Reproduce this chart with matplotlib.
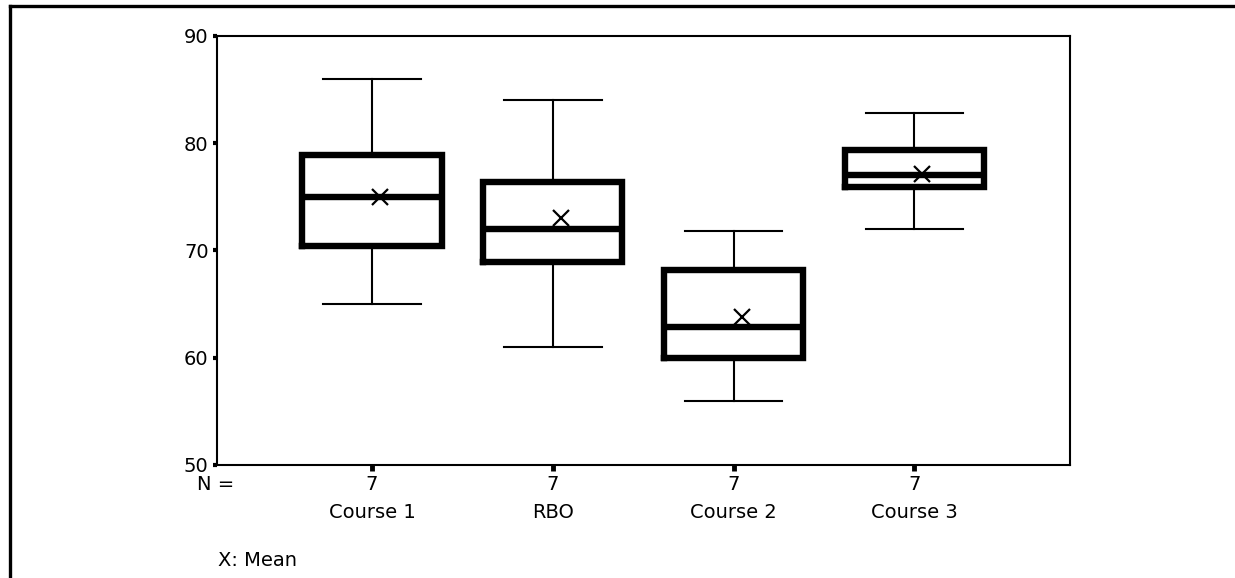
import matplotlib
matplotlib.use("Agg")
import matplotlib.pyplot as plt
import matplotlib.transforms as mtransforms
from matplotlib.lines import Line2D

# group summaries (whisker ends, quartiles, medians, means, counts)
groups = ["Course 1", "RBO", "Course 2", "Course 3"]
n_obs = [7, 7, 7, 7]
whisker_lo = [65, 61, 56, 72]
q1 = [70.4, 68.9, 60.0, 75.9]
medians = [75, 72, 62.9, 77]
q3 = [78.9, 76.4, 68.2, 79.4]
whisker_hi = [86, 84, 71.8, 82.8]
means = [75, 73, 63.8, 77.1]

plt.rcParams['font.family'] = ['DejaVu Sans']

fig = plt.figure(figsize=(12.35, 5.78), dpi=100)
ax = fig.add_axes([217 / 1235, 1 - 465 / 578, (1070 - 217) / 1235, (465 - 36) / 578])

stats = []
for i in range(len(groups)):
    stats.append({
        'whislo': whisker_lo[i], 'q1': q1[i], 'med': medians[i],
        'q3': q3[i], 'whishi': whisker_hi[i], 'fliers': [], 'label': groups[i],
    })

positions = list(range(1, len(groups) + 1))
ax.bxp(stats, positions=positions, widths=0.77, capwidths=0.54,
       showfliers=False,
       boxprops=dict(color='black', linewidth=4.6, solid_joinstyle='miter'),
       medianprops=dict(color='black', linewidth=4.6, solid_capstyle='butt'),
       whiskerprops=dict(color='black', linewidth=1.5),
       capprops=dict(color='black', linewidth=1.5))

# mean markers, nudged a little right of the box centre
mean_tr = mtransforms.offset_copy(ax.transData, fig=fig, x=8, y=0, units='dots')
ax.plot(positions, means, linestyle='none', marker='x', markersize=12,
        markeredgewidth=1.6, color='black', transform=mean_tr)

ax.set_xlim(0.143, 4.861)
ax.set_ylim(50, 90)
ax.set_yticks([50, 60, 70, 80, 90])
ax.set_xticks(positions)
ax.set_xticklabels([f"{n}\n{g}" for n, g in zip(n_obs, groups)], linespacing=1.6)

for s in ax.spines.values():
    s.set_linewidth(1.5)
    s.set_color('black')
ax.tick_params(axis='y', direction='out', length=3, width=3, labelsize=14, pad=3)
ax.tick_params(axis='x', direction='out', length=4, width=3.5, labelsize=14, pad=3)

fig.text(197 / 1235, 1 - 485 / 578, "N =", fontsize=14, ha='left', va='center')
fig.text(218 / 1235, 1 - 560 / 578, "X: Mean", fontsize=14, ha='left', va='center')

# outer frame (left and top edges)
fx = 10 / 1235
fy = 1 - 6 / 578
fig.add_artist(Line2D([fx, fx], [0, fy], color='black', linewidth=2.4,
                      transform=fig.transFigure, solid_capstyle='projecting'))
fig.add_artist(Line2D([fx, 1], [fy, fy], color='black', linewidth=2.4,
                      transform=fig.transFigure, solid_capstyle='projecting'))

fig.savefig("out.png", dpi=100, facecolor='white')
